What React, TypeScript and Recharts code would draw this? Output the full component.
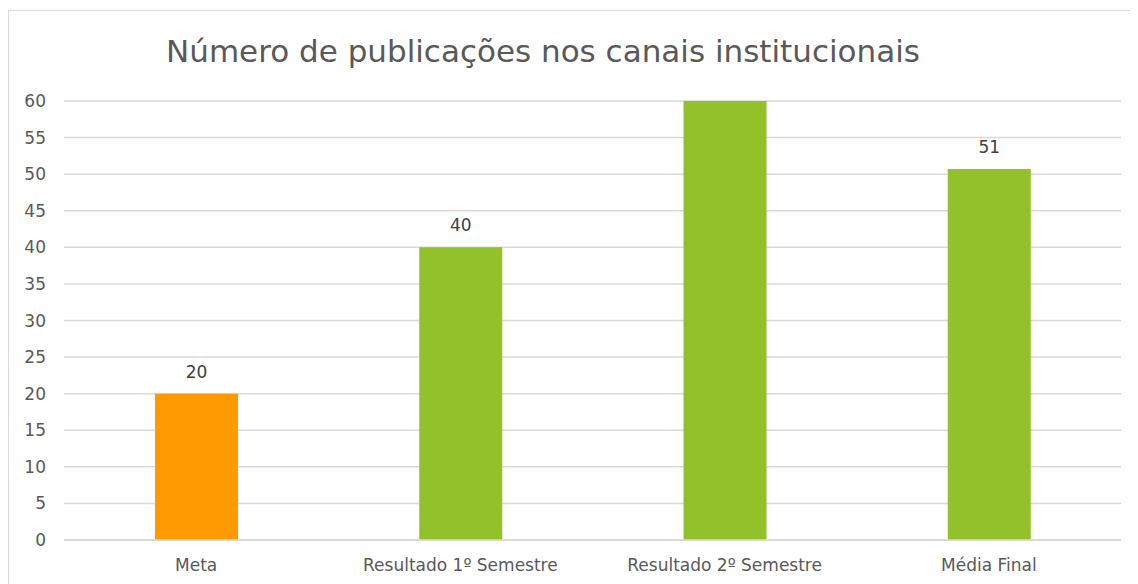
import React from 'react';
import { BarChart, Bar, XAxis, YAxis, CartesianGrid, Cell, LabelList } from 'recharts';

const categories = ['Meta', 'Resultado 1º Semestre', 'Resultado 2º Semestre', 'Média Final'];
const values = [20, 40, 60, 50.7];
const labels = ['20', '40', '', '51'];
const colors = ['#FF9900', '#92C12A', '#92C12A', '#92C12A'];
const yTicks = [0, 5, 10, 15, 20, 25, 30, 35, 40, 45, 50, 55, 60];

const data = categories.map((name, i) => ({ name, value: values[i], label: labels[i] }));

const FONT = '"DejaVu Sans", sans-serif';

export default function App() {
  return (
    <div style={{ position: 'relative', width: 1130, height: 574, marginTop: 2, border: '1px solid #D9D9D9', borderRight: 'none', borderBottom: 'none', boxSizing: 'border-box', fontFamily: FONT }}>
      <div style={{ position: 'absolute', left: 0, width: 1068, top: 22, textAlign: 'center', fontSize: 31, color: '#595959', fontFamily: FONT }}>
        Número de publicações nos canais institucionais
      </div>
      <BarChart width={1130} height={574} data={data} margin={{ top: 90, right: 18, bottom: 15, left: 0 }}>
        <CartesianGrid vertical={false} stroke="#D9D9D9" strokeWidth={1.5} />
        <XAxis dataKey="name" axisLine={{ stroke: '#D9D9D9', strokeWidth: 1.5 }} tickLine={false} tickMargin={13} height={30} tick={{ fill: '#595959', fontSize: 17, fontFamily: FONT }} interval={0} />
        <YAxis domain={[0, 60]} ticks={yTicks} axisLine={false} tickLine={false} width={55} tickMargin={12} tick={{ fill: '#595959', fontSize: 17, fontFamily: FONT }} />
        <Bar dataKey="value" barSize={83} isAnimationActive={false}>
          {data.map((d, i) => (
            <Cell key={i} fill={colors[i]} />
          ))}
          <LabelList dataKey="label" position="top" offset={16} fill="#404040" fontSize={17} fontFamily={FONT} />
        </Bar>
      </BarChart>
    </div>
  );
}
